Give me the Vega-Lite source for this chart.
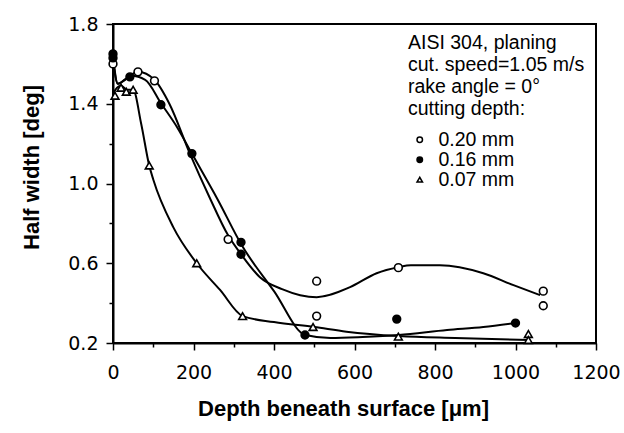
{
  "$schema": "https://vega.github.io/schema/vega-lite/v6.json",
  "autosize": {"type": "none"},
  "padding": {"left": 113, "top": 24, "right": 28, "bottom": 90},
  "width": 483,
  "height": 319,
  "background": "white",
  "config": {
    "view": {"stroke": "black", "strokeWidth": 2},
    "font": "Liberation Sans",
    "legend": {
      "orient": "none", "legendX": 295, "legendY": 9.5,
      "padding": 0,
      "titleFontSize": 19.5, "titleFontWeight": "normal", "titleColor": "black", "titleLineHeight": 22.3, "titlePadding": 10,
      "labelFontSize": 19.5, "labelColor": "black", "labelOffset": 9,
      "symbolSize": 30, "symbolStrokeColor": "black", "symbolStrokeWidth": 1.5, "symbolOffset": 2,
      "rowPadding": -1
    }
  },
  "datasets": {
    "pts": [
      {"depth": 0, "hw": 1.60, "series": "0.20 mm"},
      {"depth": 62, "hw": 1.56, "series": "0.20 mm"},
      {"depth": 103, "hw": 1.515, "series": "0.20 mm"},
      {"depth": 286, "hw": 0.72, "series": "0.20 mm"},
      {"depth": 506, "hw": 0.51, "series": "0.20 mm"},
      {"depth": 506, "hw": 0.335, "series": "0.20 mm"},
      {"depth": 709, "hw": 0.578, "series": "0.20 mm"},
      {"depth": 1069, "hw": 0.46, "series": "0.20 mm"},
      {"depth": 1069, "hw": 0.387, "series": "0.20 mm"},
      {"depth": 0, "hw": 1.65, "series": "0.16 mm"},
      {"depth": 0, "hw": 1.63, "series": "0.16 mm"},
      {"depth": 42, "hw": 1.535, "series": "0.16 mm"},
      {"depth": 119, "hw": 1.395, "series": "0.16 mm"},
      {"depth": 196, "hw": 1.15, "series": "0.16 mm"},
      {"depth": 318, "hw": 0.705, "series": "0.16 mm"},
      {"depth": 318, "hw": 0.645, "series": "0.16 mm"},
      {"depth": 477, "hw": 0.24, "series": "0.16 mm"},
      {"depth": 705, "hw": 0.32, "series": "0.16 mm"},
      {"depth": 1000, "hw": 0.30, "series": "0.16 mm"},
      {"depth": 5, "hw": 1.44, "series": "0.07 mm"},
      {"depth": 20, "hw": 1.48, "series": "0.07 mm"},
      {"depth": 33, "hw": 1.46, "series": "0.07 mm"},
      {"depth": 50, "hw": 1.47, "series": "0.07 mm"},
      {"depth": 90, "hw": 1.09, "series": "0.07 mm"},
      {"depth": 208, "hw": 0.60, "series": "0.07 mm"},
      {"depth": 322, "hw": 0.335, "series": "0.07 mm"},
      {"depth": 497, "hw": 0.28, "series": "0.07 mm"},
      {"depth": 709, "hw": 0.232, "series": "0.07 mm"},
      {"depth": 1032, "hw": 0.245, "series": "0.07 mm"},
      {"depth": 1032, "hw": 0.215, "series": "0.07 mm"}
    ],
    "curves": [
      {"depth": 0, "hw": 1.62, "series": "0.20 mm"},
      {"depth": 12, "hw": 1.50, "series": "0.20 mm"},
      {"depth": 35, "hw": 1.53, "series": "0.20 mm"},
      {"depth": 62, "hw": 1.56, "series": "0.20 mm"},
      {"depth": 103, "hw": 1.52, "series": "0.20 mm"},
      {"depth": 140, "hw": 1.40, "series": "0.20 mm"},
      {"depth": 191, "hw": 1.15, "series": "0.20 mm"},
      {"depth": 240, "hw": 0.93, "series": "0.20 mm"},
      {"depth": 286, "hw": 0.74, "series": "0.20 mm"},
      {"depth": 320, "hw": 0.64, "series": "0.20 mm"},
      {"depth": 365, "hw": 0.53, "series": "0.20 mm"},
      {"depth": 420, "hw": 0.47, "series": "0.20 mm"},
      {"depth": 465, "hw": 0.44, "series": "0.20 mm"},
      {"depth": 506, "hw": 0.43, "series": "0.20 mm"},
      {"depth": 589, "hw": 0.48, "series": "0.20 mm"},
      {"depth": 655, "hw": 0.55, "series": "0.20 mm"},
      {"depth": 709, "hw": 0.58, "series": "0.20 mm"},
      {"depth": 740, "hw": 0.59, "series": "0.20 mm"},
      {"depth": 812, "hw": 0.59, "series": "0.20 mm"},
      {"depth": 920, "hw": 0.55, "series": "0.20 mm"},
      {"depth": 995, "hw": 0.49, "series": "0.20 mm"},
      {"depth": 1061, "hw": 0.44, "series": "0.20 mm"},
      {"depth": 0, "hw": 1.64, "series": "0.16 mm"},
      {"depth": 12, "hw": 1.50, "series": "0.16 mm"},
      {"depth": 30, "hw": 1.52, "series": "0.16 mm"},
      {"depth": 45, "hw": 1.54, "series": "0.16 mm"},
      {"depth": 80, "hw": 1.52, "series": "0.16 mm"},
      {"depth": 120, "hw": 1.40, "series": "0.16 mm"},
      {"depth": 160, "hw": 1.28, "series": "0.16 mm"},
      {"depth": 196, "hw": 1.15, "series": "0.16 mm"},
      {"depth": 260, "hw": 0.92, "series": "0.16 mm"},
      {"depth": 320, "hw": 0.69, "series": "0.16 mm"},
      {"depth": 400, "hw": 0.46, "series": "0.16 mm"},
      {"depth": 478, "hw": 0.24, "series": "0.16 mm"},
      {"depth": 540, "hw": 0.225, "series": "0.16 mm"},
      {"depth": 620, "hw": 0.23, "series": "0.16 mm"},
      {"depth": 710, "hw": 0.24, "series": "0.16 mm"},
      {"depth": 830, "hw": 0.265, "series": "0.16 mm"},
      {"depth": 920, "hw": 0.28, "series": "0.16 mm"},
      {"depth": 1000, "hw": 0.30, "series": "0.16 mm"},
      {"depth": 0, "hw": 1.45, "series": "0.07 mm"},
      {"depth": 10, "hw": 1.48, "series": "0.07 mm"},
      {"depth": 20, "hw": 1.49, "series": "0.07 mm"},
      {"depth": 35, "hw": 1.47, "series": "0.07 mm"},
      {"depth": 50, "hw": 1.47, "series": "0.07 mm"},
      {"depth": 70, "hw": 1.30, "series": "0.07 mm"},
      {"depth": 90, "hw": 1.09, "series": "0.07 mm"},
      {"depth": 100, "hw": 1.02, "series": "0.07 mm"},
      {"depth": 150, "hw": 0.78, "series": "0.07 mm"},
      {"depth": 208, "hw": 0.60, "series": "0.07 mm"},
      {"depth": 266, "hw": 0.466, "series": "0.07 mm"},
      {"depth": 322, "hw": 0.335, "series": "0.07 mm"},
      {"depth": 400, "hw": 0.305, "series": "0.07 mm"},
      {"depth": 500, "hw": 0.28, "series": "0.07 mm"},
      {"depth": 580, "hw": 0.257, "series": "0.07 mm"},
      {"depth": 710, "hw": 0.235, "series": "0.07 mm"},
      {"depth": 850, "hw": 0.225, "series": "0.07 mm"},
      {"depth": 1035, "hw": 0.215, "series": "0.07 mm"}
    ]
  },
  "encoding": {
    "x": {
      "field": "depth", "type": "quantitative",
      "scale": {"domain": [0, 1200], "nice": false},
      "axis": {
        "title": "Depth beneath surface [μm]",
        "values": [0, 100, 200, 300, 400, 500, 600, 700, 800, 900, 1000, 1100, 1200],
        "labelExpr": "datum.value % 200 == 0 ? format(datum.value, 'd') : ''",
        "grid": false,
        "domainColor": "black", "domainWidth": 2,
        "tickColor": "black", "tickWidth": 1.5,
        "tickSize": {"condition": {"test": "datum.value % 200 == 0", "value": 7}, "value": 4},
        "labelFont": "DejaVu Sans",
        "labelFontSize": 19, "labelColor": "black", "labelPadding": 13,
        "labelFlush": false,
        "titleFontSize": 22, "titleFontWeight": "bold", "titleColor": "black", "titlePadding": 16,
        "titleX": 230
      }
    },
    "y": {
      "field": "hw", "type": "quantitative",
      "scale": {"domain": [0.2, 1.8], "nice": false, "zero": false},
      "axis": {
        "title": "Half width [deg]",
        "values": [0.2, 0.4, 0.6, 0.8, 1.0, 1.2, 1.4, 1.6, 1.8],
        "labelExpr": "abs((datum.value - 0.2) / 0.4 - round((datum.value - 0.2) / 0.4)) < 0.01 ? format(datum.value, '.1f') : ''",
        "grid": false,
        "domainColor": "black", "domainWidth": 2,
        "tickColor": "black", "tickWidth": 1.5,
        "tickSize": {"condition": {"test": "abs((datum.value - 0.2) / 0.4 - round((datum.value - 0.2) / 0.4)) < 0.01", "value": 7}, "value": 4},
        "labelFont": "DejaVu Sans",
        "labelFontSize": 19, "labelColor": "black", "labelPadding": 8,
        "labelFlush": false,
        "titleFontSize": 22, "titleFontWeight": "bold", "titleColor": "black", "titlePadding": 24,
        "titleY": 143
      }
    }
  },
  "layer": [
    {
      "data": {"name": "curves"},
      "mark": {"type": "line", "interpolate": "monotone", "color": "black", "strokeWidth": 2},
      "encoding": {"detail": {"field": "series"}}
    },
    {
      "data": {"name": "pts"},
      "mark": {"type": "point", "filled": true, "strokeWidth": 1.6, "size": 60, "opacity": 1},
      "encoding": {
        "shape": {
          "field": "series", "type": "nominal",
          "scale": {"domain": ["0.20 mm", "0.16 mm", "0.07 mm"], "range": ["circle", "circle", "triangle-up"]},
          "legend": {"title": ["AISI 304, planing", "cut. speed=1.05 m/s", "rake angle = 0°", "cutting depth:"]}
        },
        "fill": {
          "field": "series", "type": "nominal",
          "scale": {"domain": ["0.20 mm", "0.16 mm", "0.07 mm"], "range": ["white", "black", "white"]},
          "legend": {"title": ["AISI 304, planing", "cut. speed=1.05 m/s", "rake angle = 0°", "cutting depth:"]}
        },
        "stroke": {
          "field": "series", "type": "nominal",
          "scale": {"domain": ["0.20 mm", "0.16 mm", "0.07 mm"], "range": ["black", "black", "black"]},
          "legend": {"title": ["AISI 304, planing", "cut. speed=1.05 m/s", "rake angle = 0°", "cutting depth:"]}
        }
      }
    }
  ]
}
